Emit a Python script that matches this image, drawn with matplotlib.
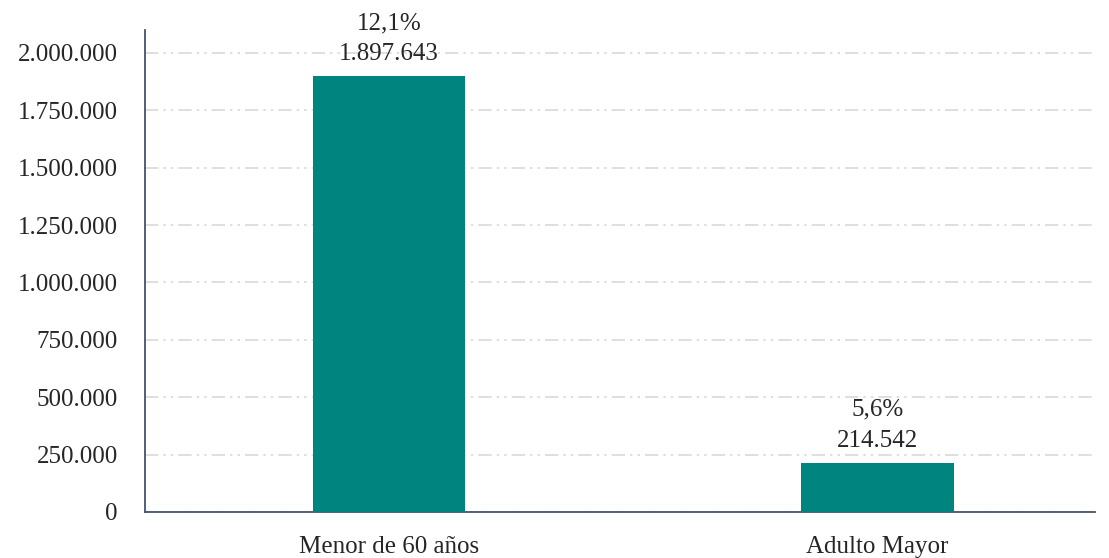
import matplotlib
matplotlib.use("Agg")
import matplotlib.pyplot as plt
from matplotlib.ticker import FuncFormatter

categories = ["Menor de 60 años", "Adulto Mayor"]
values = [1897643, 214542]
percents = ["12,1%", "5,6%"]
yticks = [0, 250000, 500000, 750000, 1000000, 1250000, 1500000, 1750000, 2000000]

plt.rcParams['font.family'] = ['Liberation Serif', 'DejaVu Serif']

fig = plt.figure(figsize=(11.09, 5.58), dpi=100)
ax = fig.add_axes([145/1109, 1-512/558, (1095-145)/1109, (512-30)/558])

x = list(range(len(categories)))
bars = ax.bar(x, values, width=0.313, color="#00847f", zorder=3)

def fmt(v):
    return f"{int(v):,}".replace(",", ".")

for xi, v, p in zip(x, values, percents):
    ax.annotate(f"{p}\n{fmt(v)}", (xi, v), xytext=(0, 8), textcoords="offset points",
                ha="center", va="bottom", fontsize=18, color="#262626", linespacing=1.55)

ax.set_xlim(-0.5, 1.446)
ax.set_ylim(0, 2100000)
ax.set_yticks(yticks)
ax.yaxis.set_major_formatter(FuncFormatter(lambda v, _: fmt(v)))
ax.set_xticks(x)
ax.set_xticklabels(categories)
ax.tick_params(axis='both', length=0, labelsize=18, colors="#262626")
ax.tick_params(axis='y', pad=19.5)
ax.tick_params(axis='x', pad=17)
ax.grid(axis='y', color="#d9d9d9", linestyle=(0, (8, 3, 1.5, 3, 1.5, 3)), linewidth=1.2, zorder=0)
for s in ["top", "right"]:
    ax.spines[s].set_visible(False)
for s in ["left", "bottom"]:
    ax.spines[s].set_color("#44546a")
    ax.spines[s].set_linewidth(1.3)

fig.savefig("out.png", dpi=100)
